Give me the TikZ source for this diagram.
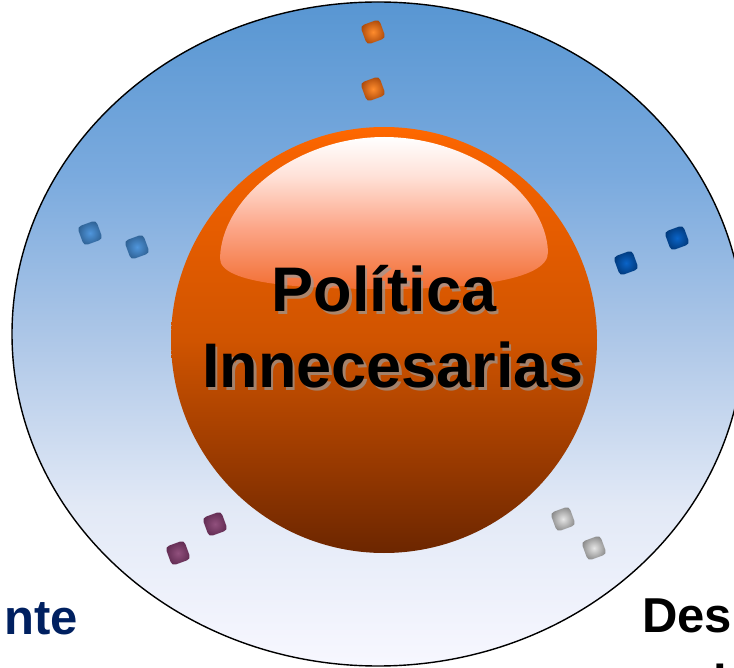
\documentclass[tikz,border=0pt]{standalone}
\usepackage{fontspec}
\setmainfont{Liberation Sans}
\definecolor{navy}{RGB}{0,32,96}
\definecolor{hlbot}{RGB}{242,110,50}
\pgfdeclareverticalshading{outershade}{100bp}{%
  color(0bp)=(white!97!blue); color(25bp)=(white!97!blue);
  color(37bp)=(rgb,255:red,226;green,233;blue,246);
  color(50bp)=(rgb,255:red,172;green,198;blue,231);
  color(62bp)=(rgb,255:red,122;green,170;blue,222);
  color(75bp)=(rgb,255:red,88;green,150;blue,210);
  color(100bp)=(rgb,255:red,88;green,150;blue,210)}
\pgfdeclareverticalshading{sphereshade}{100bp}{%
  color(0bp)=(rgb,255:red,108;green,38;blue,0); color(25bp)=(rgb,255:red,108;green,38;blue,0);
  color(37bp)=(rgb,255:red,158;green,60;blue,0);
  color(50bp)=(rgb,255:red,208;green,84;blue,0);
  color(62bp)=(rgb,255:red,228;green,92;blue,0);
  color(72bp)=(rgb,255:red,245;green,98;blue,0);
  color(75bp)=(rgb,255:red,255;green,104;blue,0);
  color(100bp)=(rgb,255:red,255;green,104;blue,0)}
\pgfdeclareverticalshading{hlshade}{100bp}{%
  color(0bp)=(hlbot); color(25bp)=(hlbot);
  color(45bp)=(rgb,255:red,252;green,165;blue,135);
  color(62bp)=(rgb,255:red,255;green,225;blue,215);
  color(75bp)=(white);
  color(100bp)=(white)}
\tikzset{
  sqbox/.style={minimum size=20pt, inner sep=0pt, rounded corners=4pt, shading=radial, rotate=20},
  orsq/.style={sqbox, inner color={rgb,255:red,255;green,140;blue,45}, outer color={rgb,255:red,170;green,72;blue,10}},
  blsq/.style={sqbox, inner color={rgb,255:red,80;green,150;blue,220}, outer color={rgb,255:red,45;green,95;blue,145}},
  dbsq/.style={sqbox, inner color={rgb,255:red,10;green,100;blue,200}, outer color={rgb,255:red,0;green,55;blue,120}},
  pusq/.style={sqbox, inner color={rgb,255:red,145;green,80;blue,125}, outer color={rgb,255:red,95;green,42;blue,80}},
  grsq/.style={sqbox, inner color={rgb,255:red,230;green,230;blue,230}, outer color={rgb,255:red,135;green,135;blue,135}},
  bigtxt/.style={font=\fontsize{63}{76}\selectfont\bfseries, inner sep=0pt, anchor=base},
  shadowtxt/.style={bigtxt, text=gray!80, opacity=0.7},
  sidetxt/.style={font=\fontsize{49}{56}\selectfont\bfseries, inner sep=0pt, anchor=base}
}
\begin{document}
\begin{tikzpicture}[x=1pt,y=-1pt]
\useasboundingbox (0,0) rectangle (734,668);
% outer ellipse
\draw[line width=1.4pt, shading=outershade] (378,334) ellipse [x radius=366, y radius=332];
% sphere
\shade[shading=sphereshade] (384,340) circle [radius=213];
% highlight
\shade[shading=hlshade] (220,258) .. controls (222,195) and (300,137) .. (384,137)
  .. controls (468,137) and (546,192) .. (548,252)
  .. controls (549,282) and (460,289) .. (384,289)
  .. controls (308,289) and (219,285) .. (220,258) -- cycle;
% text shadows
\node[shadowtxt] (s1) at (386.5,314.5) {Política};
\node[shadowtxt] (s2) at (395.5,390.5) {Innecesarias};
\node[bigtxt] (t1) at (384,312) {Política};
\node[bigtxt] (t2) at (393,388) {Innecesarias};
% squares
\node[orsq] (o1) at (373,32) {};
\node[orsq] (o2) at (373,89) {};
\node[blsq] (b1) at (90,233) {};
\node[blsq] (b2) at (137,247) {};
\node[dbsq] (d1) at (626,263) {};
\node[dbsq] (d2) at (677,238) {};
\node[pusq] (p1) at (215,524) {};
\node[pusq] (p2) at (178,553) {};
\node[grsq] (g1) at (563,519) {};
\node[grsq] (g2) at (594,548) {};
% side texts
\node[sidetxt, text=navy, anchor=base east] (left) at (78,634) {nte};
\node[sidetxt, anchor=base west] (right) at (642,632) {Des};
\node[sidetxt, anchor=base west] (right2) at (713,699) {l};
\end{tikzpicture}
\end{document}
